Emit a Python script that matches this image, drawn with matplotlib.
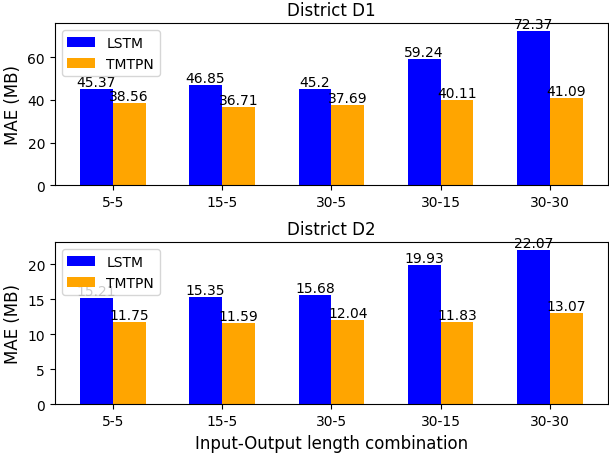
import numpy as np
import matplotlib.pyplot as plt

combinations = ["5-5", "15-5", "30-5", "30-15", "30-30"]
lstm_d1 = [45.37, 46.85, 45.2, 59.24, 72.37]
tmtpn_d1 = [38.56, 36.71, 37.69, 40.11, 41.09]
lstm_d2 = [15.21, 15.35, 15.68, 19.93, 22.07]
tmtpn_d2 = [11.75, 11.59, 12.04, 11.83, 13.07]


def plot_district(axes, lstm, tmtpn, title):
    x = np.arange(len(combinations))
    width = 0.3
    axes.bar(x - width / 2, lstm, width, color="blue", label="LSTM")
    axes.bar(x + width / 2, tmtpn, width, color="orange", label="TMTPN")
    for xi, v in zip(x, lstm):
        axes.text(xi - width / 2, v, f"{v}", ha="center", va="bottom", fontsize=10)
    for xi, v in zip(x, tmtpn):
        axes.text(xi + width / 2, v, f"{v}", ha="center", va="bottom", fontsize=10)
    axes.set_xticks(x)
    axes.set_xticklabels(combinations)
    axes.set_ylabel("MAE (MB)", fontsize=12)
    axes.set_title(title, fontsize=12)
    axes.legend(loc="upper left")


figure, (ax1, ax2) = plt.subplots(2, 1, figsize=(6.09, 4.56), dpi=100)
plot_district(ax1, lstm_d1, tmtpn_d1, "District D1")
plot_district(ax2, lstm_d2, tmtpn_d2, "District D2")
ax2.set_xlabel("Input-Output length combination", fontsize=12)
figure.subplots_adjust(left=0.090, right=0.998, top=0.947, bottom=0.111, hspace=0.35)
figure.savefig("out.png")
